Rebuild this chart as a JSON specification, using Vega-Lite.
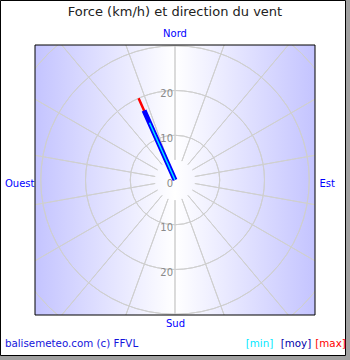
{
  "$schema": "https://vega.github.io/schema/vega-lite/v6.json",
  "width": 280,
  "height": 270,
  "autosize": {"type": "none"},
  "padding": {"left": 35, "right": 35, "top": 45, "bottom": 45},
  "background": "#a0a0a0",
  "config": {"view": {"stroke": null}, "font": "DejaVu Sans"},
  "title": {
    "text": "Force (km/h) et direction du vent",
    "subtitle": "Nord",
    "anchor": "middle",
    "frame": "group",
    "font": "DejaVu Sans",
    "fontSize": 13,
    "fontWeight": "normal",
    "color": "#222222",
    "subtitleFont": "DejaVu Sans",
    "subtitleFontSize": 10,
    "subtitleColor": "#0000ff",
    "subtitlePadding": 10,
    "offset": -39,
    "zindex": 1
  },
  "datasets": {
    "circles": [{"r": 10}, {"r": 20}, {"r": 30}, {"r": 40}],
    "spokes": [
      {"dir": 0}, {"dir": 20}, {"dir": 40}, {"dir": 60}, {"dir": 80}, {"dir": 100},
      {"dir": 120}, {"dir": 140}, {"dir": 160}, {"dir": 180}, {"dir": 200}, {"dir": 220},
      {"dir": 240}, {"dir": 260}, {"dir": 280}, {"dir": 300}, {"dir": 320}, {"dir": 340}
    ],
    "wind": [
      {"serie": "max", "speed": 20, "dir": 336},
      {"serie": "moy", "speed": 17, "dir": 336},
      {"serie": "min", "speed": 14, "dir": 336}
    ],
    "ticks": [
      {"label": "0", "value": 0, "bearing": 0},
      {"label": "10", "value": 10, "bearing": 0},
      {"label": "20", "value": 20, "bearing": 0},
      {"label": "10", "value": 10, "bearing": 180},
      {"label": "20", "value": 20, "bearing": 180}
    ],
    "one": [{}]
  },
  "layer": [
    {
      "data": {"name": "one"},
      "mark": {"type": "rect", "fill": "#ffffff", "stroke": "#000000", "strokeWidth": 1},
      "encoding": {
        "x": {"datum": -38.778, "type": "quantitative", "scale": {"domain": [-31.111, 31.111], "nice": false, "zero": false}, "axis": null},
        "x2": {"datum": 37.889},
        "y": {"datum": 39.889, "type": "quantitative", "scale": {"domain": [-30, 30], "nice": false, "zero": false}, "axis": null},
        "y2": {"datum": -39.0}
      }
    },
    {
      "data": {"name": "one"},
      "mark": {
        "type": "rect",
        "fill": {"gradient": "linear", "x1": 0, "y1": 0, "x2": 1, "y2": 0,
          "stops": [{"offset": 0, "color": "#c4c4ff"}, {"offset": 0.5, "color": "#ffffff"}, {"offset": 1, "color": "#c4c4ff"}]}
      },
      "encoding": {
        "x": {"datum": -31.111, "type": "quantitative",
          "axis": {"orient": "bottom", "title": "Sud", "labels": false, "ticks": false, "domain": false, "grid": false,
            "titlePadding": 3, "titleColor": "#0000ff", "titleFont": "DejaVu Sans", "titleFontSize": 10, "titleFontWeight": "normal", "zindex": 1}},
        "x2": {"datum": 31.111},
        "y": {"datum": -30, "type": "quantitative",
          "axis": {"orient": "left", "title": "Ouest", "titleAngle": 0, "titleAlign": "right", "titleBaseline": "middle", "titlePadding": 1, "titleY": 138,
            "labels": false, "ticks": false, "domain": false, "grid": false,
            "titleColor": "#0000ff", "titleFont": "DejaVu Sans", "titleFontSize": 10, "titleFontWeight": "normal", "zindex": 1}},
        "y2": {"datum": 30}
      }
    },
    {
      "data": {"name": "circles"},
      "mark": {"type": "arc", "filled": false, "stroke": "#cfcfcf", "strokeWidth": 1, "clip": true},
      "encoding": {
        "theta": {"datum": 0, "type": "quantitative", "stack": null, "scale": {"type": "linear", "domain": [0, 360], "range": [0, 6.2832]}},
        "theta2": {"datum": 360},
        "radius": {"field": "r", "type": "quantitative", "scale": {"type": "linear", "domain": [0, 40], "range": [0, 179], "zero": true, "nice": false}},
        "radius2": {"field": "r"}
      }
    },
    {
      "data": {"name": "spokes"},
      "mark": {"type": "arc", "filled": false, "stroke": "#cfcfcf", "strokeWidth": 1, "clip": true},
      "encoding": {
        "theta": {"field": "dir", "type": "quantitative", "stack": null},
        "theta2": {"field": "dir"},
        "radius": {"datum": 40, "type": "quantitative"},
        "radius2": {"datum": 4.5}
      }
    },
    {
      "data": {"name": "wind"},
      "mark": {"type": "arc", "filled": false},
      "encoding": {
        "theta": {"field": "dir", "type": "quantitative", "stack": null},
        "theta2": {"field": "dir"},
        "radius": {"field": "speed", "type": "quantitative"},
        "radius2": {"datum": 0},
        "stroke": {"field": "serie", "type": "nominal", "scale": {"type": "ordinal", "domain": ["max", "moy", "min"], "range": ["#ff0000", "#0000ff", "#00e8ff"]}, "legend": null},
        "strokeWidth": {"field": "serie", "type": "nominal", "scale": {"type": "ordinal", "domain": ["max", "moy", "min"], "range": [2.5, 5, 1.5]}, "legend": null}
      }
    },
    {
      "data": {"name": "ticks"},
      "mark": {"type": "text", "align": "right", "baseline": "middle", "dx": -2, "dy": 3.5, "font": "DejaVu Sans", "fontSize": 10, "fill": "#8a8a8a"},
      "encoding": {
        "theta": {"field": "bearing", "type": "quantitative", "stack": null},
        "radius": {"field": "value", "type": "quantitative"},
        "text": {"field": "label"}
      }
    },
    {
      "data": {"name": "one"},
      "mark": {"type": "rect", "filled": false, "stroke": "#000000", "strokeWidth": 1},
      "encoding": {
        "x": {"datum": -31.111, "type": "quantitative", "axis": null},
        "x2": {"datum": 31.111},
        "y": {"datum": -30, "type": "quantitative", "axis": null},
        "y2": {"datum": 30}
      }
    },
    {
      "data": {"values": [{"t": "balisemeteo.com (c) FFVL"}]},
      "mark": {"type": "text", "align": "left", "baseline": "middle", "font": "DejaVu Sans", "fontSize": 10.3, "fill": "#1414dc"},
      "encoding": {
        "x": {"datum": -37.8, "type": "quantitative", "axis": null},
        "y": {"datum": -36.44, "type": "quantitative",
          "axis": {"orient": "right", "title": "Est", "titleAngle": 0, "titleAlign": "left", "titleBaseline": "middle", "titlePadding": 4, "titleY": 138,
            "labels": false, "ticks": false, "domain": false, "grid": false,
            "titleColor": "#0000ff", "titleFont": "DejaVu Sans", "titleFontSize": 10, "titleFontWeight": "normal", "zindex": 1}},
        "text": {"field": "t"}
      }
    },
    {
      "data": {"values": [{"t": "[min]"}]},
      "mark": {"type": "text", "align": "center", "baseline": "middle", "font": "DejaVu Sans", "fontSize": 10.3, "fill": "#00e8ff"},
      "encoding": {
        "x": {"datum": 18.78, "type": "quantitative", "axis": null},
        "y": {"datum": -36.44, "type": "quantitative", "axis": null},
        "text": {"field": "t"}
      }
    },
    {
      "data": {"values": [{"t": "[moy]"}]},
      "mark": {"type": "text", "align": "center", "baseline": "middle", "font": "DejaVu Sans", "fontSize": 10.3, "fill": "#0000aa"},
      "encoding": {
        "x": {"datum": 26.89, "type": "quantitative", "axis": null},
        "y": {"datum": -36.44, "type": "quantitative", "axis": null},
        "text": {"field": "t"}
      }
    },
    {
      "data": {"values": [{"t": "[max]"}]},
      "mark": {"type": "text", "align": "center", "baseline": "middle", "font": "DejaVu Sans", "fontSize": 10.3, "fill": "#ff0000"},
      "encoding": {
        "x": {"datum": 34.56, "type": "quantitative", "axis": null},
        "y": {"datum": -36.44, "type": "quantitative", "axis": null},
        "text": {"field": "t"}
      }
    }
  ],
  "resolve": {"axis": {"x": "independent", "y": "independent"}}
}
